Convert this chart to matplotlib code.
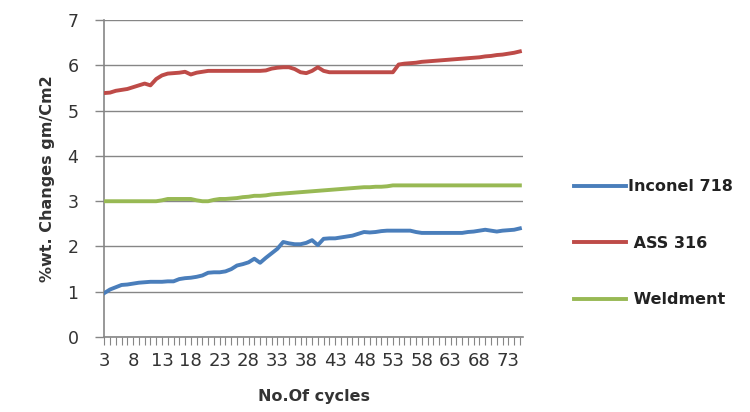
import matplotlib
matplotlib.use("Agg")
import matplotlib.pyplot as plt

# cycles 3..75
cycles = list(range(3, 76))

inconel_718 = [0.97, 1.05, 1.10, 1.15, 1.16, 1.18, 1.20, 1.21, 1.22, 1.22,
               1.22, 1.23, 1.23, 1.28, 1.30, 1.31, 1.33, 1.36, 1.42, 1.43,
               1.43, 1.45, 1.50, 1.58, 1.61, 1.65, 1.73, 1.64, 1.75, 1.85,
               1.95, 2.10, 2.07, 2.05, 2.05, 2.08, 2.14, 2.03, 2.17, 2.18,
               2.18, 2.20, 2.22, 2.24, 2.28, 2.32, 2.31, 2.32, 2.34, 2.35,
               2.35, 2.35, 2.35, 2.35, 2.32, 2.30, 2.30, 2.30, 2.30, 2.30,
               2.30, 2.30, 2.30, 2.32, 2.33, 2.35, 2.37, 2.35, 2.33, 2.35,
               2.36, 2.37, 2.40]

ass_316 = [5.39, 5.40, 5.44, 5.46, 5.48, 5.52, 5.56, 5.60, 5.56, 5.70,
           5.78, 5.82, 5.83, 5.84, 5.86, 5.80, 5.84, 5.86, 5.88, 5.88,
           5.88, 5.88, 5.88, 5.88, 5.88, 5.88, 5.88, 5.88, 5.89, 5.93,
           5.95, 5.96, 5.96, 5.92, 5.85, 5.83, 5.88, 5.96, 5.88, 5.85,
           5.85, 5.85, 5.85, 5.85, 5.85, 5.85, 5.85, 5.85, 5.85, 5.85,
           5.85, 6.02, 6.04, 6.05, 6.06, 6.08, 6.09, 6.10, 6.11, 6.12,
           6.13, 6.14, 6.15, 6.16, 6.17, 6.18, 6.20, 6.21, 6.23, 6.24,
           6.26, 6.28, 6.31]

weldment = [3.00, 3.00, 3.00, 3.00, 3.00, 3.00, 3.00, 3.00, 3.00, 3.00,
            3.02, 3.05, 3.05, 3.05, 3.05, 3.05, 3.02, 3.00, 3.00, 3.03,
            3.05, 3.05, 3.06, 3.07, 3.09, 3.10, 3.12, 3.12, 3.13, 3.15,
            3.16, 3.17, 3.18, 3.19, 3.20, 3.21, 3.22, 3.23, 3.24, 3.25,
            3.26, 3.27, 3.28, 3.29, 3.30, 3.31, 3.31, 3.32, 3.32, 3.33,
            3.35, 3.35, 3.35, 3.35, 3.35, 3.35, 3.35, 3.35, 3.35, 3.35,
            3.35, 3.35, 3.35, 3.35, 3.35, 3.35, 3.35, 3.35, 3.35, 3.35,
            3.35, 3.35, 3.35]

y_ticks = [0, 1, 2, 3, 4, 5, 6, 7]

fig = plt.figure(figsize=(7.5, 4.12), dpi=100)
ax = fig.add_axes([0.139, 0.182, 0.558, 0.769])

grid_col = "#868686"
ax.plot(cycles, inconel_718, color="#4A7EBB", lw=2.8, label="Inconel 718", zorder=3)
ax.plot(cycles, ass_316, color="#BE4B48", lw=2.8, label=" ASS 316", zorder=3)
ax.plot(cycles, weldment, color="#98B954", lw=2.8, label=" Weldment", zorder=3)

ax.set_xlim(3, 75.5)
ax.set_ylim(0, 7)
ax.set_yticks(y_ticks)
ax.yaxis.grid(True, color=grid_col, lw=1)
ax.set_axisbelow(True)

ax.set_xticks(cycles)
ax.set_xticklabels([str(c) if (c - 3) % 5 == 0 else "" for c in cycles])

for s in ["top", "right"]:
    ax.spines[s].set_visible(False)
for s in ["left", "bottom"]:
    ax.spines[s].set_color(grid_col)
    ax.spines[s].set_linewidth(1.2)

ax.tick_params(axis="y", length=6.5, width=1, color=grid_col, pad=12,
               labelsize=12.5, labelcolor="#333333")
ax.tick_params(axis="x", length=5.5, width=0.8, color=grid_col, pad=5,
               labelsize=13, labelcolor="#333333")

ax.set_ylabel("%wt. Changes gm/Cm2", fontsize=11.5, fontweight="bold",
              color="#333333", labelpad=9)
ax.set_xlabel("No.Of cycles", fontsize=11.5, fontweight="bold",
              color="#333333", labelpad=14)

fig.legend(loc="upper left", bbox_to_anchor=(0.765, 0.565), frameon=False,
           borderpad=0, borderaxespad=0, handlelength=3.3, handletextpad=0.1,
           labelspacing=2.6, prop={"size": 11.5, "weight": "bold"},
           labelcolor="#222222")

fig.savefig("out.png", dpi=100)
